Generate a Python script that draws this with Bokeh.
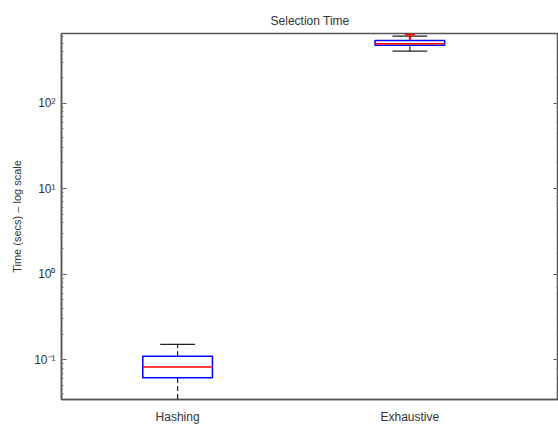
from bokeh.plotting import figure
from bokeh.models import Range1d, FixedTicker, LogAxis, LogTicker, ColumnDataSource
from bokeh.embed import file_html
from bokeh.resources import INLINE

categories = ["Hashing", "Exhaustive"]
positions = [1, 2]
q1 = [0.0618, 476.0]
median = [0.0822, 494.0]
q3 = [0.110, 541.0]
whisker_lo = [0.028, 405.0]
whisker_hi = [0.151, 607.0]
outlier_pos = [2]
outlier_val = [634.0]

box_half = 0.15
cap_half = 0.075

src = ColumnDataSource(dict(
    x=positions,
    left=[p_ - box_half for p_ in positions],
    right=[p_ + box_half for p_ in positions],
    capl=[p_ - cap_half for p_ in positions],
    capr=[p_ + cap_half for p_ in positions],
    q1=q1, med=median, q3=q3, lo=whisker_lo, hi=whisker_hi,
))

p = figure(width=558, height=426, y_axis_type="log", output_backend="svg",
           toolbar_location=None, x_range=Range1d(0.5, 2.64),
           y_range=Range1d(0.0343, 652))
p.min_border_left = 61
p.min_border_right = 0
p.min_border_top = 33
p.min_border_bottom = 25
p.background_fill_color = "white"
p.border_fill_color = "white"
p.grid.visible = False
p.outline_line_color = "#555555"
p.outline_line_width = 1.5

p.title.text = "Selection Time"
p.title.align = "center"
p.title.text_font = "Liberation Sans"
p.title.text_font_size = "12px"
p.title.text_font_style = "normal"
p.title.text_color = "#333333"
p.title.standoff = 11

# whiskers (dashed)
p.segment(x0="x", y0="q3", x1="x", y1="hi", source=src, line_color="#222222", line_width=1.2, line_dash="5 3")
p.segment(x0="x", y0="lo", x1="x", y1="q1", source=src, line_color="#222222", line_width=1.2, line_dash="5 3")
# caps
p.segment(x0="capl", y0="hi", x1="capr", y1="hi", source=src, line_color="#222222", line_width=1.2)
p.segment(x0="capl", y0="lo", x1="capr", y1="lo", source=src, line_color="#222222", line_width=1.2)
# boxes
p.quad(left="left", right="right", bottom="q1", top="q3", source=src, fill_color=None, line_color="#0000ff", line_width=1.5)
# medians
p.segment(x0="left", y0="med", x1="right", y1="med", source=src, line_color="#ff0000", line_width=1.5)
# outliers
p.scatter(outlier_pos, outlier_val, marker="cross", size=10, line_color="#ff0000", line_width=2)

ax = p.xaxis[0]
ax.ticker = FixedTicker(ticks=positions)
ax.major_label_overrides = {1: categories[0], 2: categories[1]}
ax.major_tick_line_color = None
ax.minor_tick_line_color = None
ax.axis_line_color = "#555555"
ax.axis_line_width = 1.5
ax.major_label_text_font = "Liberation Sans"
ax.major_label_text_font_size = "12px"
ax.major_label_text_color = "#333333"
ax.major_label_standoff = 4

ay = p.yaxis[0]
ay.ticker = LogTicker(num_minor_ticks=10)
ay.major_label_overrides = {0.1: "10⁻¹", 1: "10⁰", 10: "10¹", 100: "10²"}
ay.major_tick_in = 5
ay.major_tick_out = 0
ay.minor_tick_in = 2
ay.minor_tick_out = 0
ay.axis_line_color = "#555555"
ay.axis_line_width = 1.5
ay.major_tick_line_color = "#555555"
ay.minor_tick_line_color = "#777777"
ay.major_label_text_font = "Liberation Sans"
ay.major_label_text_font_size = "12px"
ay.major_label_text_color = "#333333"
ay.major_label_standoff = 6
ay.axis_label = "Time (secs) – log scale"
ay.axis_label_text_font = "Liberation Sans"
ay.axis_label_text_font_size = "11px"
ay.axis_label_text_font_style = "normal"
ay.axis_label_text_color = "#333333"
ay.axis_label_standoff = 8

ry = LogAxis(ticker=LogTicker(num_minor_ticks=10))
ry.major_label_text_font_size = "0px"
ry.major_label_text_color = None
ry.major_tick_in = 5
ry.major_tick_out = 0
ry.minor_tick_in = 2
ry.minor_tick_out = 0
ry.axis_line_color = "#555555"
ry.major_tick_line_color = "#555555"
ry.minor_tick_line_color = "#777777"
ry.major_label_standoff = 0
p.add_layout(ry, "right")

open("out.html", "w").write(file_html(p, INLINE))
